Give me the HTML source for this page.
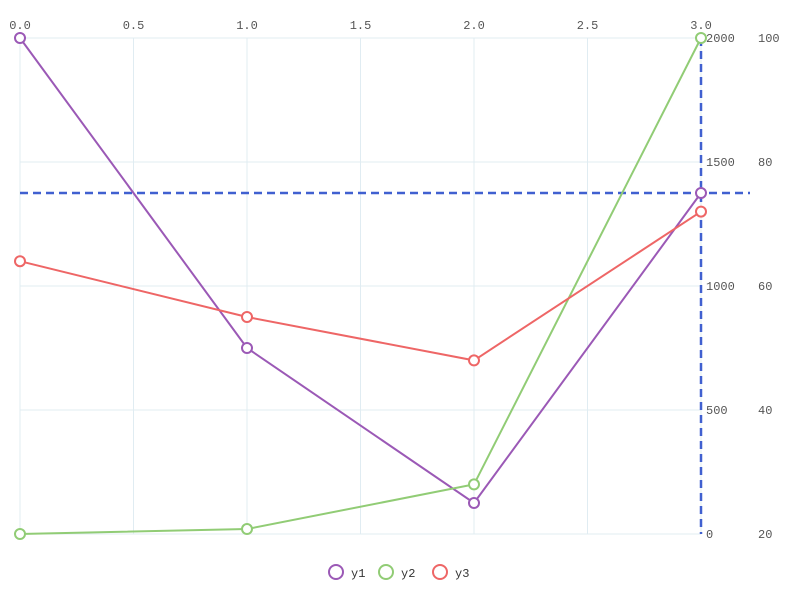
<!DOCTYPE html>
<html><head><meta charset="utf-8"><style>body{margin:0;background:#fff}svg{display:block;font-family:"Liberation Mono",monospace}</style></head>
<body>
<svg id="c" width="800" height="600"></svg>
<script>
const categories=[0,1,2,3];
const xTicks=[0.0,0.5,1.0,1.5,2.0,2.5,3.0];
const leftTicks=[0,500,1000,1500,2000];
const rightTicks=[20,40,60,80,100];
const y1=[100,50,25,75];
const y2=[0,20,200,2000];
const y3=[1100,875,700,1300];
const seriesNames=['y1','y2','y3'];
const colors=['#9b59b6','#91cc75','#ee6666'];
const X0=20,X1=701,T=38,B=534;
const sx=v=>X0+(v-0)/3*(X1-X0);
const sA=v=>B-v/2000*(B-T);
const sB=v=>B-(v-20)/80*(B-T);
const svg=document.getElementById('c');const NS='http://www.w3.org/2000/svg';
function mk(t,a,p){const e=document.createElementNS(NS,t);for(const k in a)e.setAttribute(k,a[k]);(p||svg).appendChild(e);return e;}
const g=mk('g',{});


xTicks.forEach(v=>{const l=mk('line',{x1:sx(v),x2:sx(v),y1:T,y2:B,stroke:'#e0ecf2'},g);


const t=mk('text',{x:sx(v),y:29,'text-anchor':'middle','font-size':12,fill:'#555'});t.textContent=v.toFixed(1);

});
leftTicks.forEach(v=>{const l=mk('line',{x1:X0,x2:X1,y1:sA(v),y2:sA(v),stroke:'#e0ecf2'},g);


const t=mk('text',{x:706,y:sA(v)+4,'font-size':12,fill:'#555'});t.textContent=v;

});
rightTicks.forEach(v=>{const t=mk('text',{x:758,y:sB(v)+4,'font-size':12,fill:'#555'});t.textContent=v;

});
const hp=mk('line',{x1:20,x2:750,y1:sB(y1[3]),y2:sB(y1[3]),stroke:'#4060d0','stroke-width':2.5,'stroke-dasharray':'8,5'});


const vp=mk('line',{x1:X1,x2:X1,y1:T,y2:B,stroke:'#4060d0','stroke-width':2.5,'stroke-dasharray':'8,5'});


const data=[[y1,sB],[y2,sA],[y3,sA]];
data.forEach(([d,s],i)=>{const pts=d.map((v,j)=>sx(categories[j])+','+s(v)).join(' ');
const pl=mk('polyline',{points:pts,fill:'none',stroke:colors[i],'stroke-width':2});


d.forEach((v,j)=>{const c=mk('circle',{cx:sx(categories[j]),cy:s(v),r:5,fill:'#fff',stroke:colors[i],'stroke-width':2});

});});
const lx=[336,386,440];
seriesNames.forEach((n,i)=>{const c=mk('circle',{cx:lx[i],cy:572,r:7,fill:'#fff',stroke:colors[i],'stroke-width':2});


const t=mk('text',{x:lx[i]+15,y:577,'font-size':12,fill:'#333'});t.textContent=n;

});
</script>
</body></html>
